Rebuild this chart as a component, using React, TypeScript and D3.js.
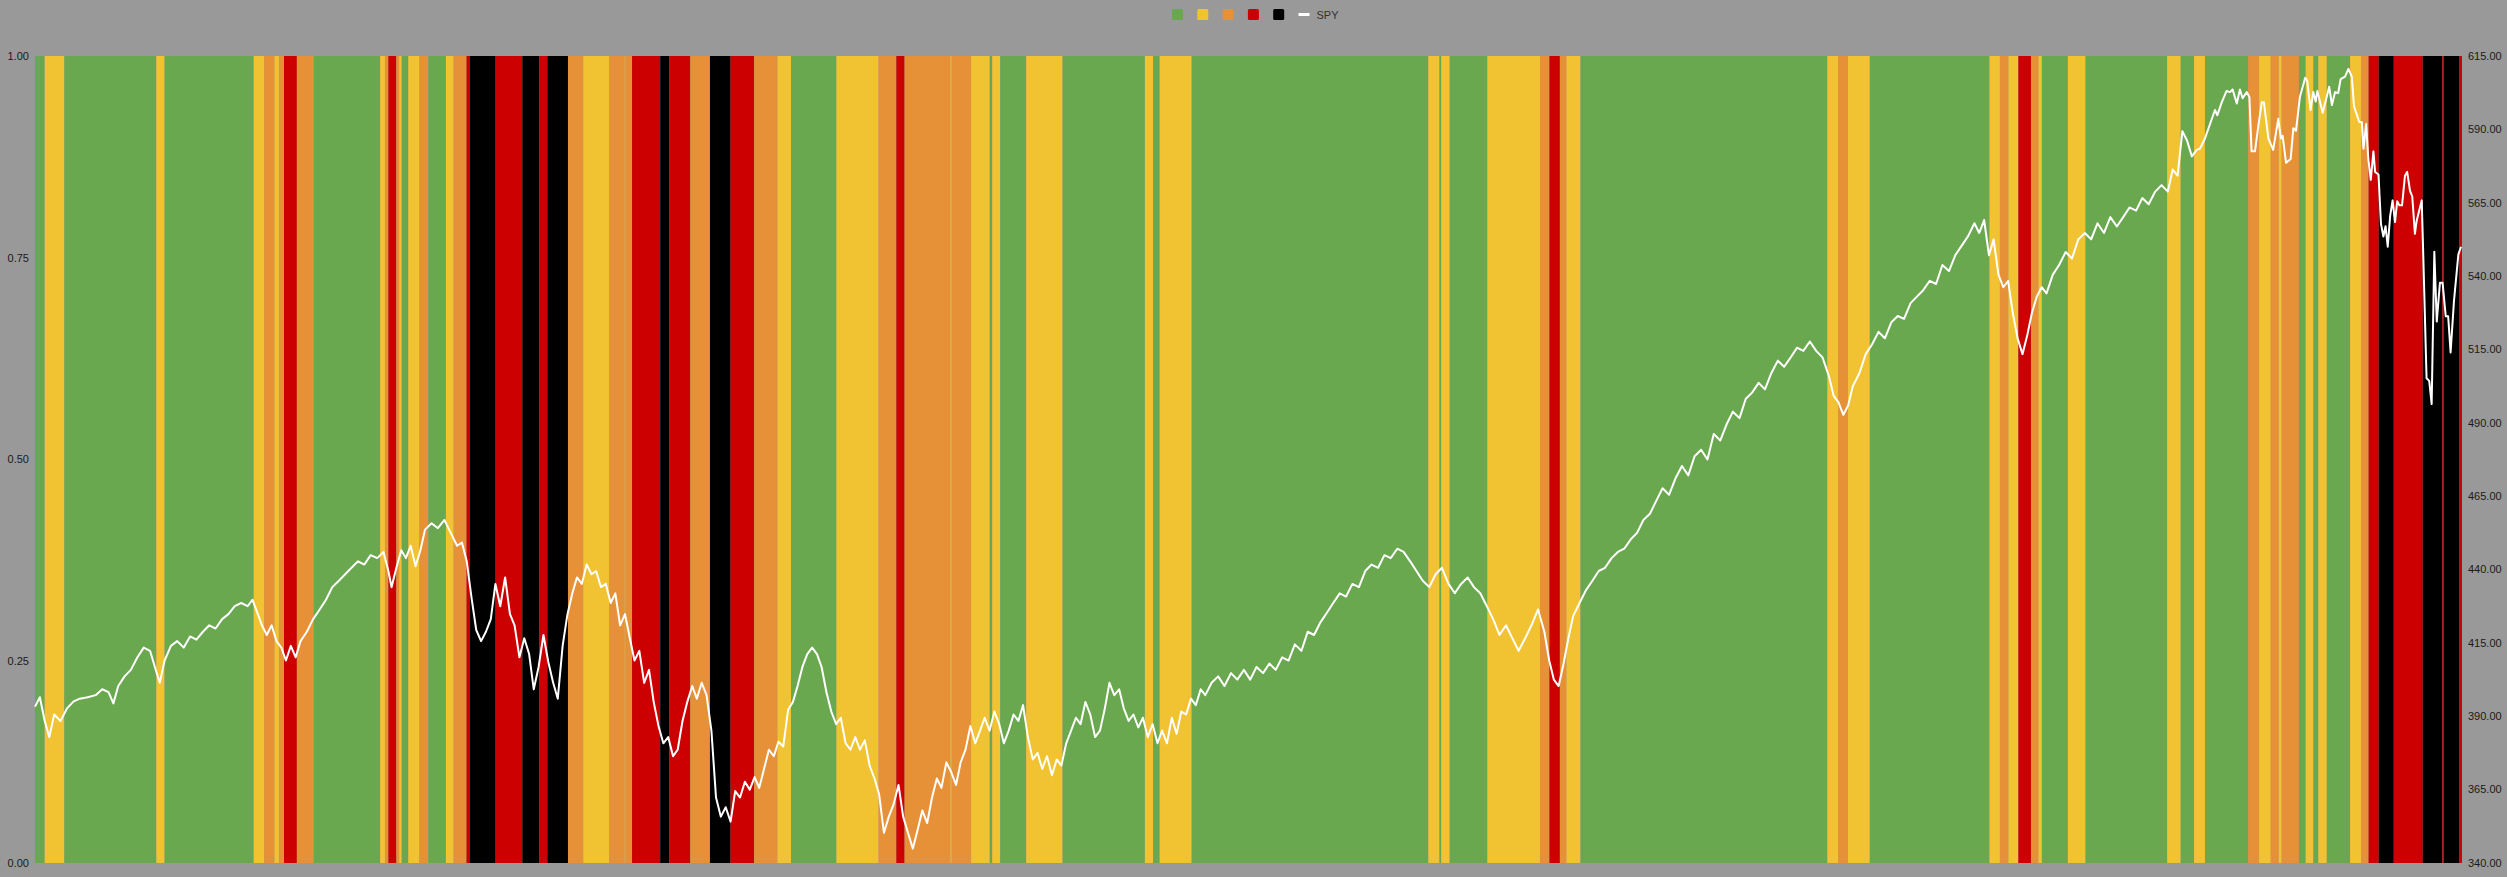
import React from "react";
import * as d3 from "d3";

// ---- data -------------------------------------------------------------
// x axis is a session index (0 .. 1000) spanning the whole history
const sessionCount = 1000;

const regimeColor: Record<string, string> = {
  G: "#6aa84f",
  Y: "#f1c232",
  O: "#e69138",
  R: "#cc0000",
  K: "#000000",
};
const legendRegimes = ["G", "Y", "O", "R", "K"];

// session at which each regime band starts
const bandStart = [
  0, 4.0, 12.1, 50.0, 53.4, 90.1, 94.4, 98.7, 100.5, 102.6,
  107.9, 114.9, 142.2, 144.2, 145.6, 148.9, 150.1, 151.1, 153.8, 158.4,
  162.1, 169.3, 172.5, 177.8, 179.1, 189.8, 200.8, 207.7, 211.1, 219.6,
  225.9, 236.6, 243.0, 243.3, 246.0, 257.6, 261.3, 270.0, 278.1, 286.6, 296.3, 305.9,
  311.5, 330.2, 347.6, 354.9, 358.3, 377.2, 377.7, 385.7, 393.4, 394.4, 397.7, 408.4,
  423.4, 457.3, 460.7, 463.4, 476.6, 574.1, 578.7, 579.4, 582.9, 598.4,
  620.1, 624.0, 628.3, 631.0, 636.8, 738.5, 742.9, 747.0, 756.0, 805.3,
  809.6, 813.1, 817.2, 822.4, 825.5, 826.9, 837.6, 844.9, 878.5, 884.1,
  889.6, 894.1, 911.9, 916.4, 921.2, 924.5, 925.7, 932.8, 935.6, 938.8,
  940.8, 944.3, 953.9, 958.4, 961.5, 965.7, 971.9, 983.8, 991.9, 992.5,
  998.8,
];
const bandRegime = (
  "GYGYGYOYOR" + "OGYOROYGYO" + "GYORKRKRKO" + "YOYORKROKROY" + "GYOROYOYGYGY" +
  "GYGYGYGYGY" + "OROYGYOYGY" + "OYROYGYGYG" + "YGOYOYOGYG" + "YGYORKRKRKR"
).split("");

// SPY close: [session, price]
const spy: [number, number][] = [
  [0, 393.3], [2.0, 396.5], [4.0, 388.4], [5.9, 382.9], [7.9, 390.6], [10.5, 388.4], [13.2, 392.7], [15.8, 395.0],
  [18.4, 396.0], [21.7, 396.5], [25.0, 397.2], [27.7, 399.2], [30.3, 398.2], [32.3, 394.4], [34.3, 400.3], [36.9, 403.6],
  [39.5, 405.8], [42.2, 410.1], [44.8, 413.4], [47.4, 412.3], [49.4, 406.8], [51.4, 401.4], [53.4, 409.0], [56.0, 414.0],
  [58.6, 415.6], [61.3, 413.4], [63.9, 417.2], [66.5, 416.1], [69.2, 418.8], [71.8, 421.0], [74.4, 419.9], [77.1, 423.1],
  [79.7, 424.8], [82.3, 427.5], [85.0, 428.6], [87.6, 427.5], [89.6, 429.7], [91.6, 425.3], [93.5, 421.0], [95.5, 417.7],
  [97.5, 421.0], [99.5, 415.6], [101.5, 413.4], [103.4, 409.0], [105.4, 414.0], [107.4, 410.1], [109.4, 415.6], [112.0, 418.8],
  [114.6, 423.1], [117.3, 426.4], [119.9, 429.7], [122.5, 434.0], [125.2, 436.2], [127.8, 438.4], [130.4, 440.6], [133.1, 442.8],
  [135.7, 441.7], [138.3, 444.9], [141.0, 443.9], [143.6, 446.0], [145.6, 439.5], [146.9, 434.0], [148.9, 440.6], [150.9, 446.6],
  [152.8, 443.9], [154.8, 448.1], [156.8, 441.1], [158.8, 446.6], [160.7, 453.6], [163.4, 455.8], [166.0, 454.1], [168.7, 456.9],
  [171.3, 452.5], [173.9, 448.1], [175.9, 449.2], [177.9, 442.8], [179.9, 430.2], [181.8, 419.4], [183.8, 415.6], [185.8, 418.8],
  [187.8, 423.1], [189.7, 435.1], [191.7, 427.5], [193.7, 437.3], [195.7, 424.8], [197.6, 421.0], [199.6, 410.1], [201.6, 416.6],
  [203.6, 411.2], [205.5, 399.2], [207.5, 406.8], [209.5, 417.7], [211.5, 408.5], [213.5, 401.4], [215.4, 396.0], [217.4, 414.0],
  [219.4, 424.8], [221.4, 431.9], [223.3, 437.3], [225.3, 435.1], [227.3, 441.7], [229.3, 438.4], [231.2, 439.5], [233.2, 434.0],
  [235.2, 435.1], [237.2, 428.6], [239.1, 431.9], [241.1, 421.0], [243.1, 424.8], [245.1, 416.6], [247.0, 409.0], [249.0, 412.3],
  [251.0, 401.4], [253.0, 405.8], [254.9, 395.0], [256.9, 386.7], [258.9, 380.8], [260.9, 382.9], [262.9, 376.4], [264.8, 378.6],
  [266.8, 388.4], [268.8, 395.0], [270.8, 400.3], [272.7, 396.0], [274.7, 401.4], [276.7, 397.2], [278.7, 385.1], [280.6, 362.3],
  [282.6, 355.8], [284.6, 359.0], [286.6, 354.1], [288.5, 364.5], [290.5, 362.3], [292.5, 367.7], [294.5, 365.0], [296.5, 369.3],
  [298.4, 365.6], [300.4, 372.1], [302.4, 378.6], [304.4, 376.4], [306.3, 381.3], [308.3, 379.7], [310.3, 392.2], [312.3, 394.9],
  [314.2, 400.3], [316.2, 406.8], [318.2, 411.2], [320.2, 413.4], [322.2, 411.2], [324.1, 406.8], [326.1, 398.2], [328.1, 391.6],
  [330.1, 387.3], [332.0, 389.5], [334.0, 380.8], [336.0, 378.6], [338.0, 382.9], [339.9, 378.6], [341.9, 381.8], [343.9, 373.2],
  [345.9, 368.8], [347.8, 363.4], [349.8, 350.3], [351.8, 355.8], [353.8, 360.1], [355.8, 366.6], [357.7, 355.8], [359.7, 350.3],
  [361.7, 344.9], [363.7, 351.4], [365.6, 357.9], [367.6, 353.6], [369.6, 362.3], [371.6, 368.8], [373.5, 365.6], [375.5, 374.3],
  [377.5, 371.0], [379.5, 366.6], [381.4, 374.3], [383.4, 378.6], [385.4, 386.7], [387.4, 380.8], [389.4, 385.1], [391.3, 389.5],
  [393.3, 385.1], [395.3, 391.6], [397.3, 387.3], [399.2, 380.8], [401.2, 385.1], [403.2, 390.6], [405.2, 388.4], [407.1, 393.8],
  [409.1, 382.9], [411.1, 375.3], [413.1, 377.5], [415.0, 372.1], [417.0, 376.4], [419.0, 369.9], [421.0, 375.3], [422.9, 373.2],
  [424.9, 380.8], [426.9, 385.1], [428.9, 389.5], [430.8, 387.3], [432.8, 394.9], [434.8, 390.6], [436.8, 382.9], [438.8, 385.1],
  [440.7, 392.2], [442.7, 401.4], [444.7, 397.2], [446.7, 399.2], [448.6, 392.7], [450.6, 388.4], [452.6, 390.6], [454.6, 386.2],
  [456.5, 389.5], [458.5, 382.9], [460.5, 387.3], [462.5, 380.8], [464.4, 385.1], [466.4, 380.8], [468.4, 389.5], [470.4, 384.0],
  [472.3, 391.6], [474.3, 390.6], [476.3, 396.0], [478.3, 393.8], [480.3, 399.2], [482.2, 397.2], [484.8, 401.4], [487.5, 403.6],
  [490.1, 400.3], [492.8, 404.7], [495.4, 402.5], [498.1, 405.8], [500.7, 402.5], [503.3, 406.8], [506.0, 404.7], [508.6, 408.0],
  [511.2, 405.8], [513.9, 410.1], [516.5, 409.0], [519.1, 414.5], [521.8, 412.3], [524.4, 418.8], [527.0, 417.7], [529.7, 422.1],
  [532.3, 425.3], [534.9, 428.6], [537.6, 431.9], [540.2, 430.8], [542.8, 435.1], [545.5, 434.0], [548.1, 439.5], [550.7, 441.7],
  [553.4, 440.6], [556.0, 444.9], [558.6, 443.9], [561.3, 447.1], [563.9, 446.0], [566.6, 442.8], [569.2, 439.5], [571.8, 436.2],
  [574.5, 434.0], [577.1, 438.4], [579.7, 440.6], [582.4, 435.1], [585.0, 431.9], [587.6, 435.1], [590.3, 437.3], [592.9, 434.0],
  [595.5, 431.9], [598.2, 427.5], [600.8, 423.1], [603.4, 417.7], [606.1, 421.0], [608.7, 416.6], [611.3, 412.3], [614.0, 416.6],
  [616.6, 421.0], [619.3, 426.4], [621.9, 418.8], [623.9, 409.0], [625.8, 402.5], [627.8, 400.3], [629.8, 407.9], [631.8, 416.6],
  [633.8, 424.2], [636.4, 428.6], [639.0, 432.9], [641.7, 436.2], [644.3, 439.5], [646.9, 440.6], [649.6, 443.9], [652.2, 446.0],
  [654.8, 447.1], [657.5, 450.3], [660.1, 452.5], [662.7, 456.9], [665.4, 459.0], [668.0, 463.4], [670.6, 467.7], [673.3, 465.5],
  [675.9, 471.0], [678.6, 475.3], [681.2, 472.1], [683.8, 478.6], [686.5, 480.8], [689.1, 477.5], [691.7, 486.2], [694.4, 484.0],
  [697.0, 489.5], [699.6, 493.8], [702.3, 491.6], [704.9, 498.2], [707.5, 500.3], [710.2, 503.6], [712.8, 501.4], [715.4, 506.9],
  [718.1, 511.2], [720.7, 509.1], [723.4, 512.3], [726.0, 515.6], [728.6, 514.5], [731.3, 517.7], [733.9, 514.5], [736.5, 512.3],
  [739.2, 505.8], [741.1, 499.2], [743.1, 497.0], [745.1, 492.7], [747.1, 496.0], [749.0, 502.5], [751.7, 506.9], [754.3, 513.4],
  [756.9, 516.7], [759.6, 521.0], [762.2, 518.8], [764.9, 524.3], [767.5, 526.4], [770.1, 525.4], [772.8, 530.8], [775.4, 533.0],
  [778.0, 535.2], [780.7, 538.4], [783.3, 537.3], [785.9, 543.8], [788.6, 541.7], [791.2, 547.1], [793.8, 550.3], [796.5, 553.6],
  [799.1, 558.0], [801.1, 554.7], [803.1, 559.1], [805.1, 547.1], [807.0, 552.5], [809.0, 540.5], [811.0, 536.2], [813.0, 538.4],
  [814.9, 527.5], [816.9, 518.8], [818.9, 513.4], [820.9, 519.9], [822.8, 527.5], [824.8, 533.0], [826.8, 536.2], [828.8, 534.1],
  [831.4, 540.5], [834.0, 543.8], [836.7, 548.2], [839.3, 546.0], [841.9, 552.5], [844.6, 554.7], [847.2, 552.5], [849.8, 558.0],
  [852.5, 554.7], [855.1, 560.1], [857.8, 556.9], [860.4, 560.1], [863.0, 563.4], [865.7, 562.3], [868.3, 566.6], [870.9, 564.5],
  [873.6, 568.8], [876.2, 571.0], [878.8, 568.8], [880.8, 576.3], [882.8, 574.2], [884.8, 589.4], [886.7, 586.2], [888.7, 580.8],
  [890.7, 583.0], [892.0, 583.4], [894.1, 586.9], [898.2, 596.6], [899.2, 594.8], [901.0, 599.2], [903.0, 603.1], [904.4, 602.7],
  [905.5, 603.6], [907.2, 598.8], [908.5, 603.6], [909.6, 600.6], [911.3, 602.7], [912.4, 601.0], [913.3, 582.5], [914.7, 582.5],
  [916.1, 591.3], [917.5, 599.2], [918.4, 599.2], [920.2, 586.9], [922.2, 583.0], [924.3, 593.6], [925.4, 586.9], [926.1, 587.8],
  [927.5, 578.6], [929.4, 579.9], [930.5, 590.4], [931.6, 589.5], [933.2, 601.0], [935.4, 607.6], [936.2, 606.6], [937.6, 596.6],
  [938.7, 602.7], [939.7, 599.5], [940.4, 603.1], [942.6, 595.7], [945.3, 604.5], [946.4, 598.3], [947.7, 602.7], [949.0, 602.4],
  [950.0, 607.1], [951.8, 608.0], [953.2, 610.6], [954.6, 608.0], [955.5, 597.8], [957.7, 592.5], [958.7, 592.5], [959.4, 583.4],
  [960.5, 591.8], [961.4, 579.9], [962.4, 572.8], [963.5, 582.5], [964.2, 575.5], [965.6, 574.6], [966.6, 557.9], [967.6, 553.5],
  [968.5, 557.0], [969.4, 550.0], [970.4, 560.5], [971.4, 565.8], [972.4, 558.4], [973.3, 565.5], [974.2, 564.1], [975.3, 564.1],
  [976.5, 574.2], [977.4, 575.5], [978.6, 569.0], [979.5, 567.2], [980.6, 554.4], [981.3, 558.8], [983.4, 565.8], [984.0, 548.3],
  [985.4, 505.2], [986.5, 504.3], [987.5, 496.4], [988.6, 548.3], [989.6, 524.5], [990.9, 537.7], [992.0, 537.7], [993.3, 526.3],
  [994.3, 526.3], [995.3, 514.0], [996.7, 531.6], [998.5, 547.4], [999.6, 550.0],
];

const leftTicks = [0, 0.25, 0.5, 0.75, 1];
const rightTicks = d3.range(340, 615.001, 25);

// ---- layout -----------------------------------------------------------
const W = 2507;
const H = 877;
const M = { left: 35, right: 45, top: 56, bottom: 14 };
const FONT = "'Liberation Sans', Arial, Helvetica, sans-serif";

export default function App() {
  const x = d3.scaleLinear().domain([0, sessionCount]).range([M.left, W - M.right]);
  const yL = d3.scaleLinear().domain([0, 1]).range([H - M.bottom, M.top]);
  const yR = d3.scaleLinear().domain([340, 615]).range([H - M.bottom, M.top]);

  const bands = bandStart.map((s, i) => ({
    x0: s,
    x1: i + 1 < bandStart.length ? bandStart[i + 1] : sessionCount,
    regime: bandRegime[i],
  }));

  const line = d3
    .line<[number, number]>()
    .x((d) => x(d[0]))
    .y((d) => yR(d[1]));

  const legendX = d3.scaleLinear().domain([0, 1]).range([1172, 1197.3]);

  return (
    <svg
      width={W}
      height={H}
      style={{ position: "absolute", left: 0, top: 0, background: "#999999", display: "block" }}
      fontFamily={FONT}
    >
      <rect x={0} y={0} width={W} height={H} fill="#999999" />
      {/* legend */}
      <g>
        {legendRegimes.map((r, i) => (
          <rect
            key={r}
            x={legendX(i)}
            y={9}
            width={11}
            height={11}
            rx={1.5}
            fill={regimeColor[r]}
          />
        ))}
        <line
          x1={legendX(legendRegimes.length)}
          x2={legendX(legendRegimes.length) + 11}
          y1={14.5}
          y2={14.5}
          stroke="#ffffff"
          strokeWidth={3}
        />
        <text x={legendX(legendRegimes.length) + 18} y={18.5} fontSize={11} fill="#333333">
          SPY
        </text>
      </g>

      {/* regime bands */}
      <g>
        {bands.map((b, i) => (
          <rect
            key={i}
            x={x(b.x0)}
            y={M.top}
            width={Math.max(0, x(b.x1) - x(b.x0))}
            height={H - M.bottom - M.top}
            fill={regimeColor[b.regime]}
          />
        ))}
      </g>

      {/* SPY line */}
      <path d={line(spy) || ""} fill="none" stroke="#ffffff" strokeWidth={2} strokeLinejoin="round" />

      {/* left axis */}
      <g>
        {leftTicks.map((t) => (
          <text
            key={t}
            x={M.left - 6}
            y={yL(t)}
            dy="0.35em"
            textAnchor="end"
            fontSize={11}
            fill="#1a1a1a"
          >
            {t.toFixed(2)}
          </text>
        ))}
      </g>

      {/* right axis */}
      <g>
        {rightTicks.map((t) => (
          <text
            key={t}
            x={W - M.right + 6}
            y={yR(t)}
            dy="0.35em"
            textAnchor="start"
            fontSize={11}
            fill="#1a1a1a"
          >
            {t.toFixed(2)}
          </text>
        ))}
      </g>
    </svg>
  );
}
